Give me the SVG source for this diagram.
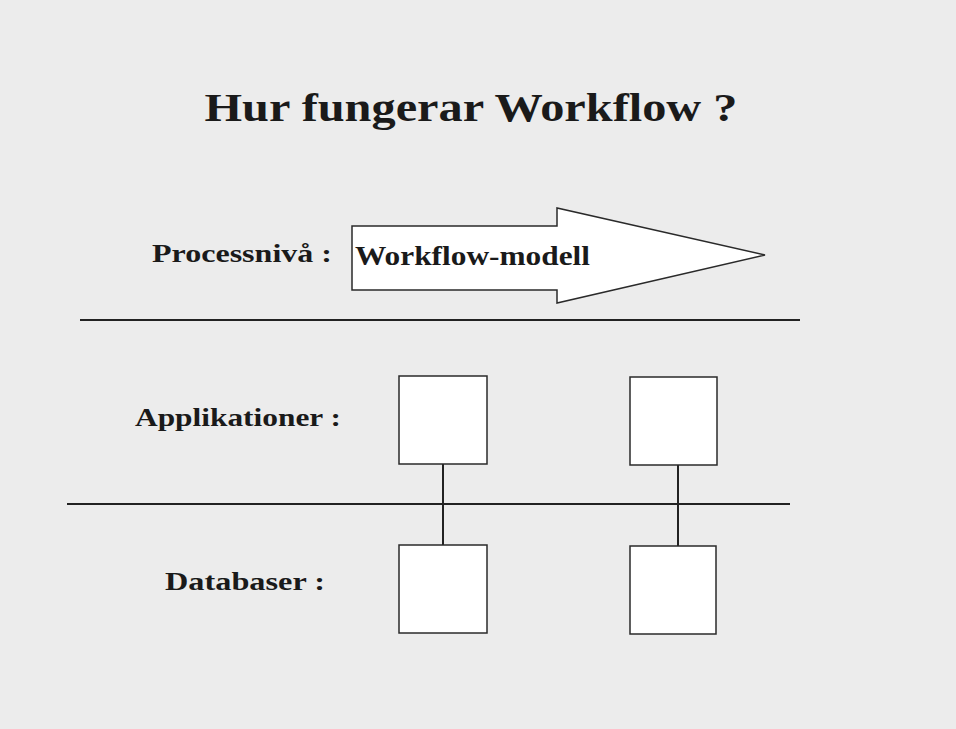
<svg xmlns="http://www.w3.org/2000/svg" width="956" height="729" viewBox="0 0 956 729">
<style>
.t{font-family:"Liberation Serif","Times New Roman",serif;font-weight:bold;fill:#1a1a1a}
.box{fill:#ffffff;stroke:#2a2a2a;stroke-width:1.5}
.ln{stroke:#222;stroke-width:2;fill:none}
</style>
<rect width="956" height="729" fill="#ececec"/>
<g id="title"><text class="t" x="471" y="121" font-size="40" text-anchor="middle" textLength="533" lengthAdjust="spacingAndGlyphs">Hur fungerar Workflow ?</text></g>
<g id="labels">
<text class="t" x="152" y="262" font-size="26" textLength="180" lengthAdjust="spacingAndGlyphs">Processnivå :</text>
<text class="t" x="135" y="426" font-size="26" textLength="206" lengthAdjust="spacingAndGlyphs">Applikationer :</text>
<text class="t" x="165" y="590" font-size="26" textLength="160" lengthAdjust="spacingAndGlyphs">Databaser :</text>
</g>
<g id="workflow-arrow">
<polygon points="352,226 557,226 557,208 765,255 557,303 557,290 352,290" fill="#fff" stroke="#2a2a2a" stroke-width="1.5"/>
<text class="t" x="355" y="265" font-size="28" textLength="235" lengthAdjust="spacingAndGlyphs">Workflow-modell</text>
</g>
<g id="connectors">
<line class="ln" x1="80" y1="320" x2="800" y2="320"/>
<line class="ln" x1="67" y1="504" x2="790" y2="504"/>
<line class="ln" x1="443" y1="464" x2="443" y2="545" stroke-width="1.5"/>
<line class="ln" x1="678" y1="465" x2="678" y2="546" stroke-width="1.5"/>
</g>
<g id="app1"><rect class="box" x="399" y="376" width="88" height="88"/></g>
<g id="app2"><rect class="box" x="630" y="377" width="87" height="88"/></g>
<g id="db1"><rect class="box" x="399" y="545" width="88" height="88"/></g>
<g id="db2"><rect class="box" x="630" y="546" width="86" height="88"/></g>
</svg>
